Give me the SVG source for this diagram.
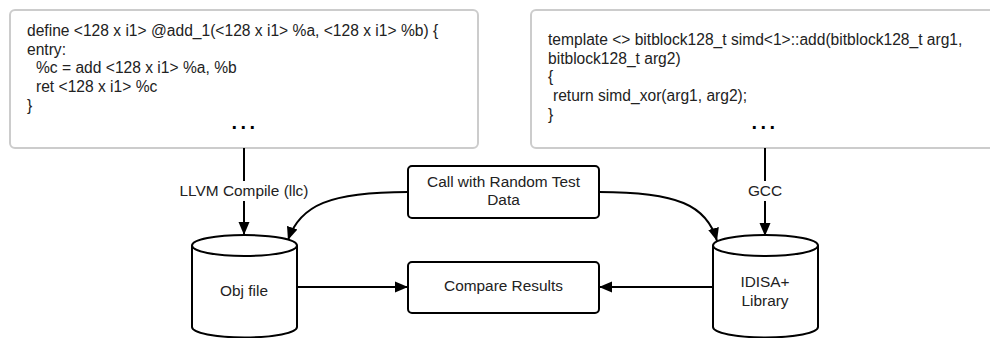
<svg xmlns="http://www.w3.org/2000/svg" width="990" height="338" viewBox="0 0 990 338">
<style>
text{font-family:"Liberation Sans",Arial,sans-serif;font-size:15.6px;fill:#222}
.code{fill:#fff;stroke:#cccccc;stroke-width:2}
.shape{fill:#fff;stroke:#000;stroke-width:2}
.conn{fill:none;stroke:#000;stroke-width:2}
.c{text-anchor:middle}
.lbl{font-size:15.4px}
.dots{font-size:20px;font-weight:bold;letter-spacing:3.45px;fill:#000}
</style>
<defs>
<marker id="arr" markerUnits="userSpaceOnUse" markerWidth="14" markerHeight="12" refX="13" refY="6" orient="auto">
<path d="M0,0.5 L13,6 L0,11.5 Z" fill="#000"/>
</marker>
</defs>
<g id="llvm-code">
<rect class="code" x="10" y="10" width="468" height="138" rx="5"/>
<text x="27" y="36">define &lt;128 x i1&gt; @add_1(&lt;128 x i1&gt; %a, &lt;128 x i1&gt; %b) {</text>
<text x="27" y="54.7">entry:</text>
<text x="36" y="73.4">%c = add &lt;128 x i1&gt; %a, %b</text>
<text x="36" y="92.1">ret &lt;128 x i1&gt; %c</text>
<text x="27" y="110.8">}</text>
<text class="dots" x="231.5" y="129">...</text>
</g>
<g id="cpp-code">
<rect class="code" x="531" y="10" width="470" height="138" rx="5"/>
<text x="548" y="45">template &lt;&gt; bitblock128_t simd&lt;1&gt;::add(bitblock128_t arg1,</text>
<text x="548" y="63.7">bitblock128_t arg2)</text>
<text x="548" y="82.4">{</text>
<text x="553" y="101.1">return simd_xor(arg1, arg2);</text>
<text x="548" y="119.8">}</text>
<text class="dots" x="751.5" y="129">...</text>
</g>
<g id="connectors">
<path class="conn" d="M244,148 L244,235" marker-end="url(#arr)"/>
<path class="conn" d="M765,148 L765,236" marker-end="url(#arr)"/>
<path class="conn" d="M408,192 C330,192 300,205 288,240" marker-end="url(#arr)"/>
<path class="conn" d="M599,192 C677,192 707,205 717,241" marker-end="url(#arr)"/>
<path class="conn" d="M297,287 L408,287" marker-end="url(#arr)"/>
<path class="conn" d="M713,287 L599,287" marker-end="url(#arr)"/>
<rect x="176" y="181" width="136" height="20" fill="#fff"/>
<text class="c lbl" x="244" y="196">LLVM Compile (llc)</text>
<rect x="745" y="181" width="40" height="20" fill="#fff"/>
<text class="c lbl" x="765" y="196">GCC</text>
</g>
<g id="call">
<rect class="shape" x="408" y="166" width="191" height="52" rx="4"/>
<text class="c lbl" x="503.5" y="186.5">Call with Random Test</text>
<text class="c lbl" x="503.5" y="205">Data</text>
</g>
<g id="compare">
<rect class="shape" x="408" y="262" width="191" height="51" rx="4"/>
<text class="c lbl" x="503.5" y="291">Compare Results</text>
</g>
<g id="objfile">
<path class="shape" d="M192,245.5 L192,327 A52.5,10.5 0 0 0 297,327 L297,245.5"/>
<ellipse class="shape" cx="244.5" cy="245.5" rx="52.5" ry="10.5"/>
<text class="c lbl" x="244" y="296">Obj file</text>
</g>
<g id="idisa">
<path class="shape" d="M713,245.5 L713,327 A52.5,10.5 0 0 0 818,327 L818,245.5"/>
<ellipse class="shape" cx="765.5" cy="245.5" rx="52.5" ry="10.5"/>
<text class="c lbl" x="765" y="287">IDISA+</text>
<text class="c lbl" x="765" y="305.5">Library</text>
</g>
</svg>
